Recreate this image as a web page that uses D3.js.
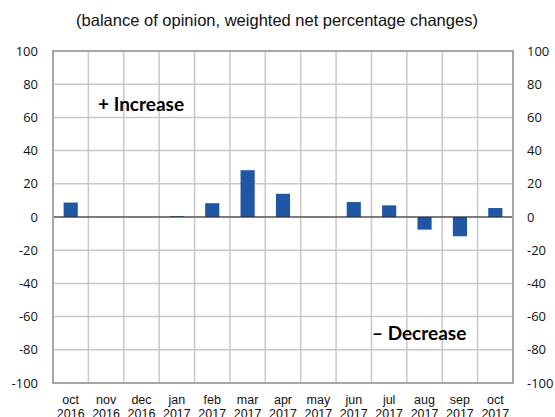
<!DOCTYPE html>
<html>
<head>
<meta charset="utf-8">
<script src="https://cdn.jsdelivr.net/npm/d3@7"></script>
<style>
  body { margin: 0; background: #fff; }
  svg { display: block; }
</style>
</head>
<body>
<div id="container"></div>
<script>
"use strict";

// chart data
const months = ["oct", "nov", "dec", "jan", "feb", "mar", "apr", "may", "jun", "jul", "aug", "sep", "oct"];
const years = ["2016", "2016", "2016", "2017", "2017", "2017", "2017", "2017", "2017", "2017", "2017", "2017", "2017"];
const values = [8.7, 0, 0, 0.5, 8.3, 28.2, 14, 0, 9, 7, -7.6, -11.6, 5.4];
const yTicks = [100, 80, 60, 40, 20, 0, -20, -40, -60, -80, -100];

const W = 555, H = 417;
// plot area
const plotL = 53, plotR = 513, plotT = 51, plotB = 383;

const svg = d3.select("#container")
	.append("svg")
	.attr("width", W)
	.attr("height", H);

const keys = months.map((m, i) => i);

const x = d3.scaleBand()
	.domain(keys)
	.range([plotL, plotR])
	.paddingInner(0)
	.paddingOuter(0);

const y = d3.scaleLinear()
	.domain([-100, 100])
	.range([plotB, plotT]);

// title
svg.append("text")
	.attr("x", 277)
	.attr("y", 26)
	.attr("text-anchor", "middle")
	.attr("font-family", "Liberation Sans, Arial, sans-serif")
	.attr("font-size", 16.5)
	.attr("fill", "#111")
	.text("(balance of opinion, weighted net percentage changes)");

// gridlines
const grid = svg.append("g").attr("stroke", "#c8c8c8").attr("stroke-width", 1.5);
yTicks.forEach(t => {
	grid.append("line")
		.attr("x1", plotL).attr("x2", plotR)
		.attr("y1", y(t)).attr("y2", y(t));
});
keys.slice(1).forEach(k => {
	grid.append("line")
		.attr("x1", x(k)).attr("x2", x(k))
		.attr("y1", plotT).attr("y2", plotB);
});

// bars
const bw = x.bandwidth() * 0.4;
svg.append("g")
	.selectAll("rect")
	.data(values)
	.enter()
	.append("rect")
	.attr("x", (d, i) => x(i) + x.bandwidth() / 2 - bw / 2)
	.attr("width", bw)
	.attr("y", d => y(Math.max(0, d)))
	.attr("height", d => Math.abs(y(d) - y(0)))
	.attr("fill", "#1f57a5");

// zero line
svg.append("line")
	.attr("x1", plotL).attr("x2", plotR)
	.attr("y1", y(0)).attr("y2", y(0))
	.attr("stroke", "#222")
	.attr("stroke-width", 1);

// plot border
svg.append("rect")
	.attr("x", plotL).attr("y", plotT)
	.attr("width", plotR - plotL).attr("height", plotB - plotT)
	.attr("fill", "none")
	.attr("stroke", "#a6a6a6")
	.attr("stroke-width", 2);

// y axis labels (both sides)
const yLab = svg.append("g")
	.attr("font-family", "Open Sans, sans-serif")
	.attr("font-size", 13)
	.attr("fill", "#111");
yTicks.forEach(t => {
	yLab.append("text")
		.attr("x", 38)
		.attr("y", y(t))
		.attr("dy", "0.35em")
		.attr("text-anchor", "end")
		.text(t);
	yLab.append("text")
		.attr("x", 527)
		.attr("y", y(t))
		.attr("dy", "0.35em")
		.attr("text-anchor", "start")
		.text(t);
});

// x axis labels (year line runs off the bottom edge, as in the original)
const xLab = svg.append("g")
	.attr("font-family", "Liberation Sans, Arial, sans-serif")
	.attr("font-size", 12.5)
	.attr("fill", "#111")
	.attr("text-anchor", "middle");
keys.forEach(k => {
	const cx = x(k) + x.bandwidth() / 2;
	xLab.append("text").attr("x", cx).attr("y", 404).text(months[k]);
	xLab.append("text").attr("x", cx).attr("y", 418).text(years[k]);
});

// annotations
svg.append("text")
	.attr("x", 98)
	.attr("y", 111)
	.attr("font-family", "Lato, sans-serif")
	.attr("font-weight", "bold")
	.attr("font-size", 19)
	.attr("fill", "#000")
	.text("+ Increase");

svg.append("text")
	.attr("x", 372)
	.attr("y", 340)
	.attr("font-family", "Lato, sans-serif")
	.attr("font-weight", "bold")
	.attr("font-size", 19)
	.attr("fill", "#000")
	.text("\u2013 Decrease");
</script>
</body>
</html>
